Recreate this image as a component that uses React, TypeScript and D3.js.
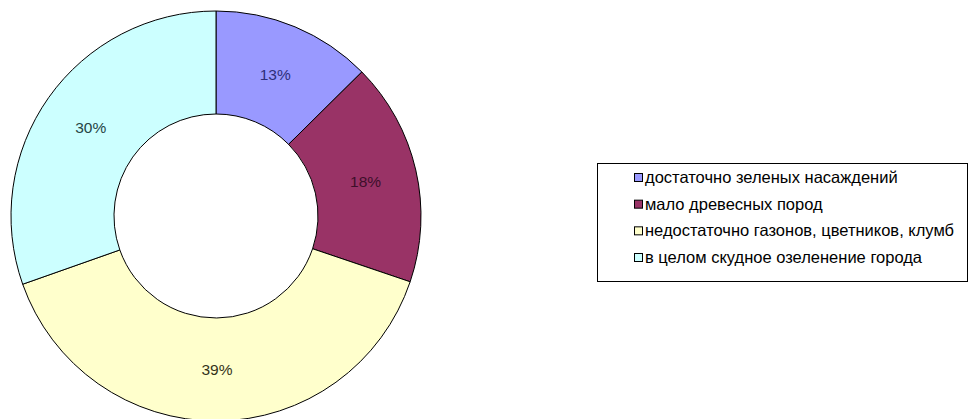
import React, { useEffect, useRef } from 'react';
import * as d3 from 'd3';

const categories = [
  'достаточно зеленых насаждений',
  'мало древесных пород',
  'недостаточно газонов, цветников, клумб',
  'в целом скудное озеленение города',
];
const values = [12.6, 17.6, 39.4, 30.4];
const labels = ['13%', '18%', '39%', '30%'];
const colors = ['#9999FF', '#993366', '#FFFFCC', '#CCFFFF'];
const labelColors = ['#2e2e7a', '#3d0f2a', '#33331a', '#264545'];

export default function App() {
  const ref = useRef<HTMLDivElement>(null);

  useEffect(() => {
    if (!ref.current) return;
    d3.select(ref.current).selectAll('*').remove();

    const width = 970;
    const height = 419;
    const cx = 216;
    const cy = 216;
    const outerR = 205;
    const innerR = 102;

    const svg = d3
      .select(ref.current)
      .append('svg')
      .attr('width', width)
      .attr('height', height)
      .style('display', 'block')
      .style('background', '#fff');

    const pie = d3
      .pie<number>()
      .sort(null)
      .value((d) => d);

    const arc = d3
      .arc<d3.PieArcDatum<number>>()
      .innerRadius(innerR)
      .outerRadius(outerR);

    const arcs = pie(values);

    const g = svg.append('g').attr('transform', `translate(${cx},${cy})`);

    g.selectAll('path')
      .data(arcs)
      .join('path')
      .attr('d', arc)
      .attr('fill', (_, i) => colors[i])
      .attr('stroke', '#000')
      .attr('stroke-width', 1);

    // percentage labels at the middle of each ring segment
    g.selectAll('text')
      .data(arcs)
      .join('text')
      .attr('x', (d) => arc.centroid(d)[0])
      .attr('y', (d) => arc.centroid(d)[1])
      .attr('text-anchor', 'middle')
      .attr('dominant-baseline', 'central')
      .attr('font-family', 'Liberation Sans, Arial, sans-serif')
      .attr('font-size', 15.5)
      .attr('fill', (_, i) => labelColors[i])
      .text((_, i) => labels[i]);

    // Legend
    const legend = svg.append('g');
    legend
      .append('rect')
      .attr('x', 597.5)
      .attr('y', 163.5)
      .attr('width', 370)
      .attr('height', 118)
      .attr('fill', '#fff')
      .attr('stroke', '#000')
      .attr('stroke-width', 1);

    const rowY = d3.scalePoint<string>().domain(categories).range([177, 257]);

    const rows = legend
      .selectAll('g.row')
      .data(categories)
      .join('g')
      .attr('class', 'row')
      .attr('transform', (d) => `translate(0,${rowY(d)})`);

    rows
      .append('rect')
      .attr('x', 634.5)
      .attr('y', -3.5)
      .attr('width', 8)
      .attr('height', 8)
      .attr('fill', (_, i) => colors[i])
      .attr('stroke', '#000')
      .attr('stroke-width', 1);

    rows
      .append('text')
      .attr('x', 645)
      .attr('y', 0)
      .attr('dominant-baseline', 'central')
      .attr('font-family', 'Liberation Sans, Arial, sans-serif')
      .attr('font-size', 16.5)
      .attr('fill', '#000')
      .text((d) => d);
  }, []);

  return <div ref={ref} style={{ position: 'absolute', left: 0, top: 0 }}></div>;
}
